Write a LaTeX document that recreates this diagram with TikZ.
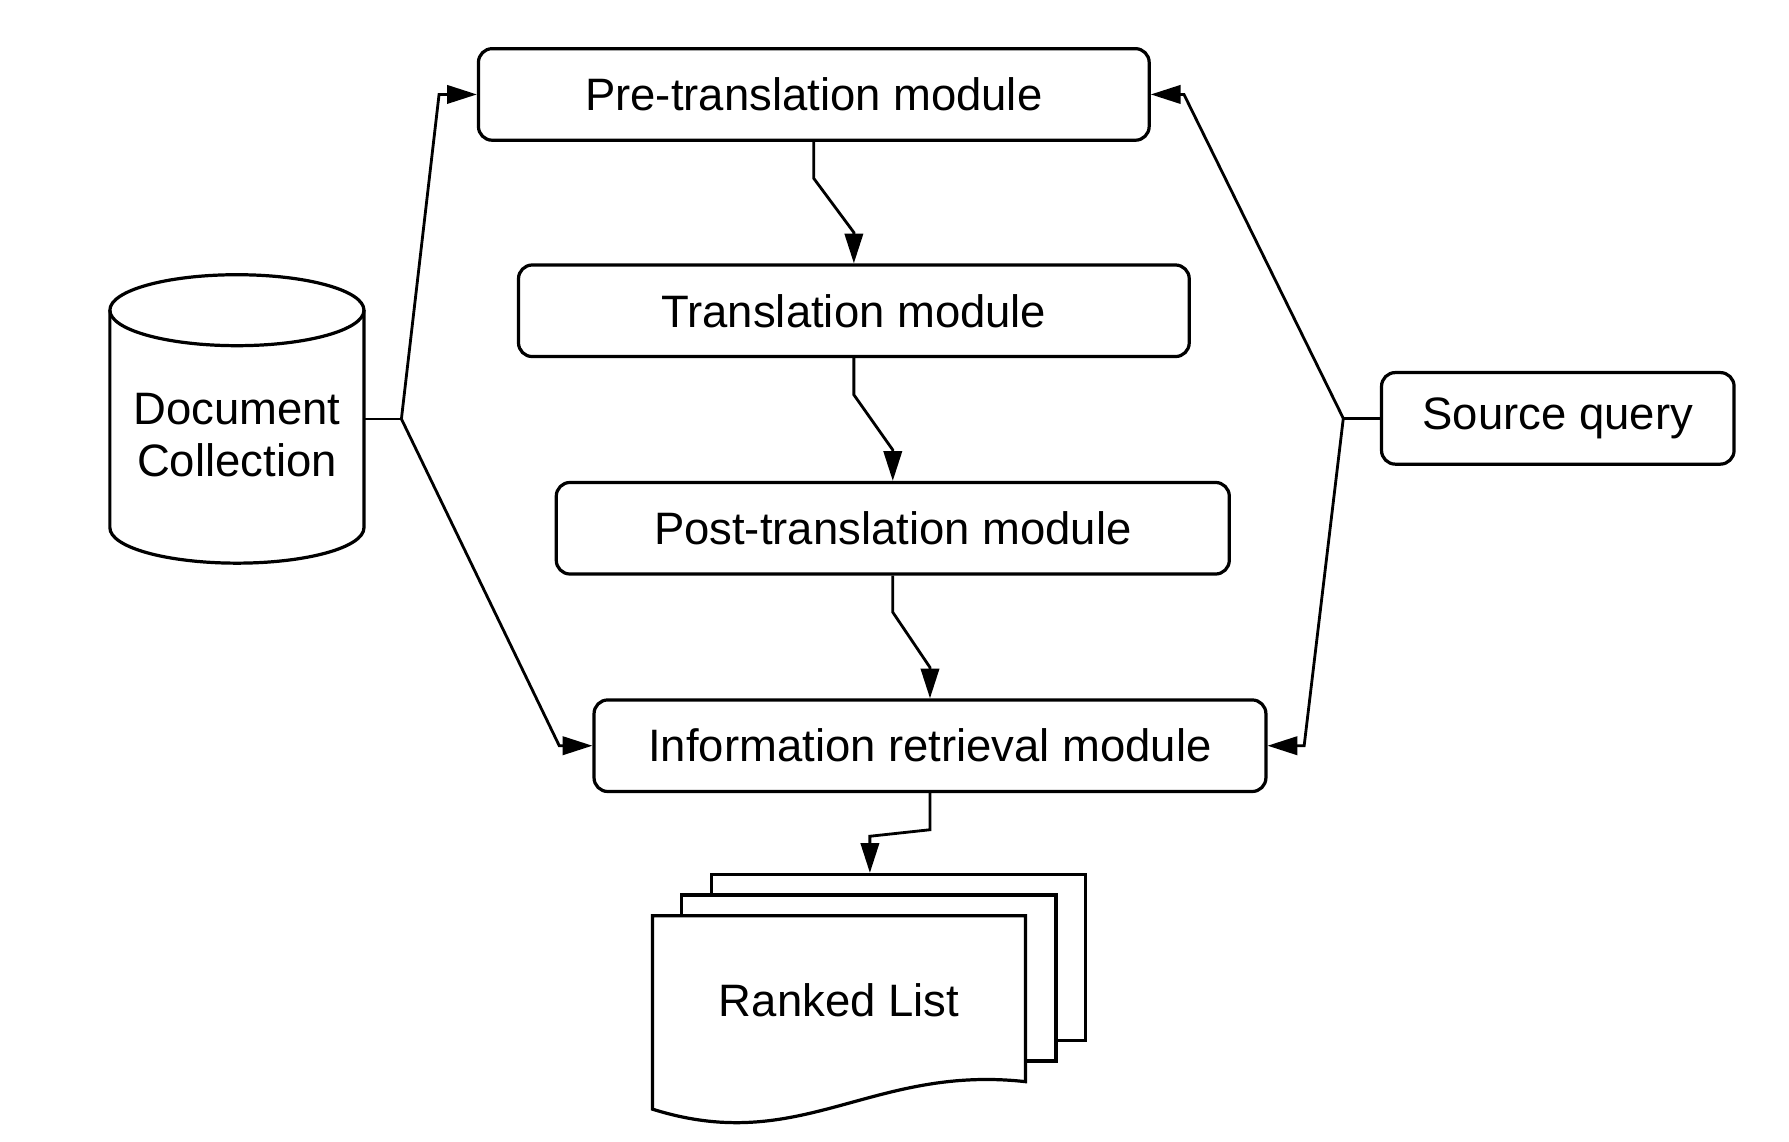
\documentclass[tikz,border=0pt]{standalone}
\usepackage{fontspec}
\setmainfont{Liberation Sans}
\usetikzlibrary{arrows.meta}

\begin{document}
\begin{tikzpicture}[x=0.1mm, y=-0.1mm,
    every node/.style={font=\fontsize{11.3}{12.8}\selectfont},
    module/.style={draw, rounded corners=1.2mm, line width=0.8pt, minimum width=5.86cm, minimum height=0.8cm, inner sep=0pt},
    page/.style={draw, fill=white, line width=0.8pt, minimum width=3.27cm, minimum height=1.45cm, inner sep=0pt},
    link/.style={-{Triangle[length=2.6mm, width=1.6mm]}, line width=0.7pt}]
    \useasboundingbox (0,0) rectangle (1563,997);
    % Nodes
    \node[module] (pre) at (711,82.5) {Pre-translation module};
    \node[module] (trans) at (746,271.5) {Translation module};
    \node[module, minimum width=5.88cm] (post) at (780,461.5) {Post-translation module};
    \node[module, minimum width=5.87cm] (ir) at (812.5,651.5) {Information retrieval module};
    \node[module, minimum width=3.08cm] (query) at (1361,365.5) {Source query};
    % Document collection
    \node[minimum width=2.22cm, minimum height=2.52cm, inner sep=0pt] (doc) at (207,366) {};
    \draw[line width=0.8pt] (96,271) -- (96,461) arc[start angle=180, end angle=360, x radius=1.11cm, y radius=0.31cm] -- (318,271);
    \draw[line width=0.8pt] (207,271) ellipse [x radius=1.11cm, y radius=0.31cm];
    \node[align=center] (doctext) at (207,380) {Document\\Collection};
    % Ranked list
    \node[page] (rank3) at (785,836.5) {};
    \node[page] (rank2) at (759,854.5) {};
    \draw[fill=white, line width=0.8pt] (570,800) -- (896,800) -- (896,945) .. controls (760,930) and (700,1010) .. (570,969) -- cycle;
    \node (rank) at (733,874) {Ranked List};
    % Edges
    \draw[link] (pre.south) -- ++(0,32) -- ([yshift=2.7mm]trans.north) -- (trans.north);
    \draw[link] (trans.south) -- ++(0,32) -- ([yshift=2.7mm]post.north) -- (post.north);
    \draw[link] (post.south) -- ++(0,32) -- ([yshift=2.7mm]ir.north) -- (ir.north);
    \draw[link] (ir.south) -- ++(0,32) -- ([xshift=-2.5mm, yshift=3.2mm]rank3.north) -- ([xshift=-2.5mm]rank3.north);
    \draw[line width=0.7pt] (doc.east) -- ++(32,0) coordinate (dj);
    \draw[link] (dj) -- ([xshift=-3.3mm]pre.west) -- (pre.west);
    \draw[link] (dj) -- ([xshift=-2.9mm]ir.west) -- (ir.west);
    \draw[line width=0.7pt] (query.west) -- ++(-32,0) coordinate (qj);
    \draw[link] (qj) -- ([xshift=2.9mm]pre.east) -- (pre.east);
    \draw[link] (qj) -- ([xshift=3.2mm]ir.east) -- (ir.east);
\end{tikzpicture}
\end{document}
